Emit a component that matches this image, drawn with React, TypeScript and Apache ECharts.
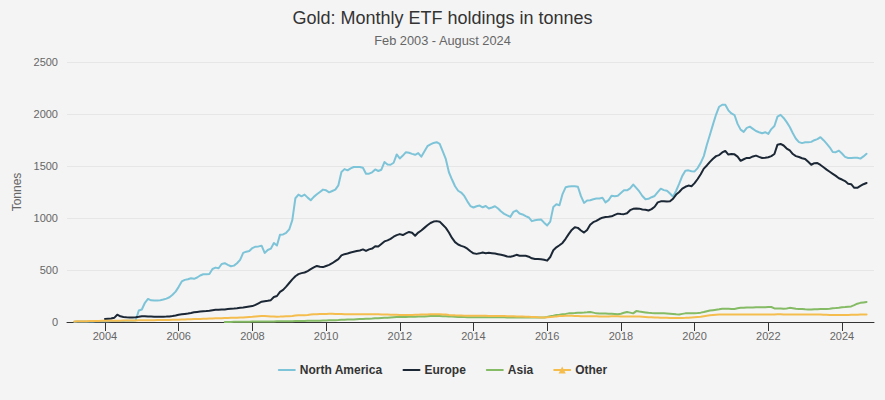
import React, { useEffect, useRef } from "react";
import * as echarts from "echarts";

const TITLE = "Gold: Monthly ETF holdings in tonnes";
const SUBTITLE = "Feb 2003 - August 2024";
const Y_NAME = "Tonnes";
const seriesNames = ["North America", "Europe", "Asia", "Other"];
const seriesColors = ["#7ec4d8", "#1b2735", "#84bb64", "#f4bd4e"];
const xTickYears = [2004, 2006, 2008, 2010, 2012, 2014, 2016, 2018, 2020, 2022, 2024];

// first month (year, month) of each series; values are month-end holdings in tonnes
const naStart = [2003, 2];
const naValues = [
  3, 4, 4, 5, 5, 6, 6, 7, 7, 8, 8, // 2003 Feb-Dec
  8, 9, 9, 10, 10, 10, 11, 11, 12, 15, 110, 120, // 2004
  185, 222, 208, 206, 207, 210, 216, 225, 238, 262, 292, 338, // 2005
  390, 405, 411, 421, 415, 428, 447, 459, 459, 462, 510, 523, // 2006
  517, 558, 565, 549, 536, 542, 565, 597, 664, 676, 683, 711, // 2007
  724, 727, 734, 664, 692, 705, 760, 735, 840, 842, 858, 890, // 2008
  980, 1190, 1225, 1209, 1225, 1196, 1171, 1203, 1228, 1250, 1273, 1266, // 2009
  1247, 1260, 1273, 1314, 1442, 1470, 1458, 1477, 1490, 1490, 1490, 1483, // 2010
  1426, 1426, 1439, 1467, 1452, 1464, 1538, 1515, 1512, 1531, 1611, 1573, // 2011
  1600, 1633, 1627, 1617, 1608, 1624, 1590, 1640, 1690, 1707, 1722, 1729, // 2012
  1712, 1640, 1565, 1440, 1370, 1305, 1262, 1245, 1212, 1160, 1115, 1101, // 2013
  1113, 1120, 1103, 1115, 1091, 1101, 1113, 1091, 1062, 1040, 1025, 1011, // 2014
  1059, 1072, 1043, 1034, 1018, 1005, 970, 979, 983, 986, 955, 928, // 2015
  965, 1105, 1132, 1123, 1230, 1295, 1303, 1305, 1305, 1300, 1210, 1145, // 2016
  1168, 1171, 1180, 1187, 1188, 1195, 1150, 1172, 1215, 1210, 1215, 1240, // 2017
  1266, 1266, 1285, 1322, 1290, 1255, 1212, 1180, 1184, 1200, 1212, 1248, // 2018
  1282, 1268, 1262, 1235, 1205, 1262, 1330, 1405, 1455, 1458, 1450, 1448, // 2019
  1480, 1530, 1595, 1705, 1800, 1900, 1995, 2070, 2089, 2088, 2035, 2005, // 2020
  1990, 1905, 1850, 1828, 1866, 1878, 1857, 1836, 1825, 1815, 1825, 1809, // 2021
  1855, 1885, 1975, 1992, 1962, 1922, 1875, 1815, 1762, 1730, 1720, 1728, // 2022
  1729, 1732, 1748, 1758, 1777, 1748, 1715, 1680, 1635, 1633, 1648, 1620, // 2023
  1588, 1577, 1578, 1579, 1579, 1571, 1592, 1617, // 2024 Jan-Aug
];

const euStart = [2003, 12];
const euValues = [
  30, // 2003 Dec
  32, 33, 40, 70, 55, 48, 45, 44, 44, 46, 50, 55, // 2004
  55, 52, 52, 51, 51, 51, 51, 52, 54, 57, 62, 70, // 2005
  74, 78, 82, 87, 93, 97, 101, 103, 105, 108, 113, 117, // 2006
  118, 120, 121, 124, 127, 129, 132, 136, 140, 145, 150, 153, // 2007
  165, 180, 195, 200, 204, 210, 240, 250, 290, 309, 340, 375, // 2008
  410, 440, 460, 470, 476, 490, 508, 525, 539, 532, 528, 539, // 2009
  549, 565, 585, 605, 640, 652, 658, 668, 675, 682, 688, 698, // 2010
  683, 698, 706, 728, 725, 750, 775, 785, 800, 820, 835, 845, // 2011
  836, 852, 866, 858, 830, 860, 880, 905, 930, 952, 966, 970, // 2012
  965, 935, 905, 860, 808, 768, 745, 732, 722, 705, 680, 660, // 2013
  655, 660, 668, 662, 665, 662, 658, 652, 646, 640, 630, 628, // 2014
  635, 646, 637, 638, 637, 628, 612, 606, 605, 603, 598, 590, // 2015
  625, 690, 718, 738, 760, 800, 845, 885, 912, 905, 880, 860, // 2016
  885, 935, 960, 972, 990, 1003, 1010, 1011, 1016, 1030, 1042, 1038, // 2017
  1037, 1045, 1075, 1088, 1091, 1090, 1082, 1080, 1072, 1085, 1108, 1150, // 2018
  1160, 1161, 1158, 1160, 1185, 1225, 1250, 1282, 1300, 1312, 1306, 1335, // 2019
  1375, 1420, 1475, 1505, 1540, 1570, 1595, 1605, 1630, 1645, 1610, 1615, // 2020
  1612, 1590, 1550, 1565, 1578, 1578, 1592, 1600, 1588, 1577, 1579, 1584, // 2021
  1595, 1615, 1705, 1712, 1697, 1668, 1650, 1615, 1595, 1586, 1575, 1568, // 2022
  1540, 1512, 1527, 1528, 1510, 1488, 1465, 1445, 1425, 1405, 1382, 1370, // 2023
  1355, 1330, 1325, 1290, 1290, 1308, 1325, 1337, // 2024 Jan-Aug
];

const asiaStart = [2007, 3];
const asiaValues = [
  1, 1, 1, 2, 2, 2, 3, 3, 3, 4, // 2007 Mar-Dec
  4, 5, 5, 5, 6, 6, 6, 7, 7, 7, 8, 8, // 2008
  8, 9, 9, 10, 10, 11, 11, 12, 12, 13, 14, 15, // 2009
  16, 17, 18, 19, 21, 22, 23, 24, 25, 27, 29, 30, // 2010
  31, 32, 33, 35, 36, 38, 40, 42, 44, 46, 47, 48, // 2011
  48, 49, 50, 50, 51, 52, 53, 54, 56, 57, 58, 58, // 2012
  57, 56, 55, 54, 52, 50, 49, 48, 47, 46, 46, 46, // 2013
  46, 46, 46, 46, 46, 46, 46, 45, 45, 45, 44, 44, // 2014
  44, 44, 44, 44, 44, 44, 44, 43, 43, 43, 44, 48, // 2015
  55, 60, 67, 70, 74, 78, 83, 85, 86, 88, 90, 91, // 2016
  93, 96, 90, 83, 82, 82, 81, 80, 80, 78, 75, 80, // 2017
  89, 96, 90, 83, 105, 100, 96, 92, 88, 86, 85, 84, // 2018
  84, 83, 82, 80, 78, 75, 73, 78, 83, 83, 83, 83, // 2019
  86, 90, 96, 103, 110, 114, 118, 122, 127, 128, 127, 126, // 2020
  125, 132, 137, 138, 139, 140, 140, 141, 142, 142, 143, 144, // 2021
  144, 131, 130, 129, 128, 130, 136, 133, 128, 126, 124, 122, // 2022
  121, 121, 122, 123, 124, 125, 126, 128, 132, 134, 137, 142, // 2023
  144, 147, 150, 162, 176, 184, 188, 192, // 2024 Jan-Aug
];

const otherStart = [2003, 2];
const otherValues = [
  6, 7, 7, 8, 8, 9, 9, 10, 10, 11, 11, // 2003 Feb-Dec
  12, 12, 13, 13, 13, 14, 14, 14, 15, 15, 16, 17, // 2004
  17, 18, 18, 18, 19, 19, 19, 20, 20, 21, 21, 22, // 2005
  23, 24, 26, 27, 28, 29, 30, 31, 32, 33, 34, 35, // 2006
  36, 37, 38, 39, 40, 41, 42, 43, 44, 46, 48, 50, // 2007
  53, 56, 58, 57, 55, 53, 52, 51, 52, 54, 55, 56, // 2008
  58, 62, 64, 65, 66, 68, 72, 74, 75, 76, 77, 78, // 2009
  79, 80, 78, 77, 76, 75, 75, 74, 74, 74, 74, 74, // 2010
  74, 74, 74, 74, 74, 73, 72, 71, 70, 70, 69, 68, // 2011
  67, 67, 68, 68, 69, 70, 71, 72, 73, 74, 74, 74, // 2012
  74, 73, 71, 68, 66, 64, 63, 62, 61, 60, 60, 60, // 2013
  60, 60, 59, 59, 58, 58, 58, 57, 57, 57, 56, 56, // 2014
  55, 54, 53, 52, 51, 50, 48, 47, 45, 44, 44, 45, // 2015
  47, 50, 54, 57, 58, 60, 60, 59, 58, 57, 56, 56, // 2016
  55, 55, 55, 55, 54, 54, 54, 54, 55, 55, 55, 54, // 2017
  54, 54, 54, 54, 53, 52, 50, 48, 46, 45, 44, 43, // 2018
  42, 41, 40, 39, 38, 38, 38, 39, 40, 42, 44, 46, // 2019
  48, 50, 55, 60, 64, 67, 70, 72, 72, 73, 73, 73, // 2020
  73, 72, 72, 72, 73, 73, 73, 73, 73, 73, 73, 73, // 2021
  73, 73, 74, 74, 73, 73, 72, 72, 72, 72, 72, 72, // 2022
  72, 72, 72, 72, 71, 70, 69, 68, 67, 67, 67, 68, // 2023
  68, 68, 69, 70, 70, 71, 72, 73, // 2024 Jan-Aug
];

// x = decimal year at the end of each month
function toPoints(start: number[], values: number[]) {
  return values.map((v, i) => {
    const idx = start[1] - 1 + i;
    const year = start[0] + Math.floor(idx / 12);
    const month = (idx % 12) + 1;
    return [year + month / 12, v];
  });
}

const FONT = "'Liberation Sans', Arial, Helvetica, sans-serif";

export default function App() {
  const ref = useRef<HTMLDivElement>(null);

  useEffect(() => {
    if (!ref.current) return;
    const chart = echarts.init(ref.current, null, { renderer: "svg" });
    const allData = [
      toPoints(naStart, naValues),
      toPoints(euStart, euValues),
      toPoints(asiaStart, asiaValues),
      toPoints(otherStart, otherValues),
    ];
    const option: any = {
      animation: false,
      backgroundColor: "#f4f4f4",
      textStyle: { fontFamily: FONT },
      title: [
        {
          text: TITLE,
          left: "center",
          top: 8.5,
          padding: 0,
          textStyle: { fontSize: 18, fontWeight: "normal", color: "#333333", lineHeight: 18, fontFamily: FONT },
        },
        {
          text: SUBTITLE,
          left: "center",
          top: 34,
          padding: 0,
          textStyle: { fontSize: 12.8, fontWeight: "normal", color: "#666666", lineHeight: 13, fontFamily: FONT },
        },
      ],
      grid: { left: 67, right: 11, top: 62, bottom: 78, containLabel: false },
      legend: {
        top: 364,
        left: "center",
        padding: 0,
        itemGap: 20,
        itemWidth: 16,
        itemHeight: 9,
        textStyle: { fontSize: 12, fontWeight: "bold", color: "#333333", fontFamily: FONT },
        data: [
          { name: seriesNames[0], itemStyle: { opacity: 0 } },
          { name: seriesNames[1], itemStyle: { opacity: 0 } },
          { name: seriesNames[2], itemStyle: { opacity: 0 } },
          { name: seriesNames[3] },
        ],
      },
      xAxis: {
        type: "value",
        min: 2002.969,
        max: 2024.869,
        splitLine: { show: false },
        axisLine: { show: true, lineStyle: { color: "#333333", width: 1 } },
        axisTick: { show: true, length: 9, lineStyle: { color: "#333333" }, customValues: xTickYears },
        axisLabel: {
          customValues: xTickYears,
          formatter: (v: number) => String(Math.round(v)),
          color: "#666666",
          fontSize: 11,
          margin: 8,
          fontFamily: FONT,
        },
      },
      yAxis: {
        type: "value",
        min: 0,
        max: 2500,
        interval: 500,
        name: Y_NAME,
        nameLocation: "middle",
        nameGap: 28,
        nameTextStyle: { color: "#666666", fontSize: 12, fontFamily: FONT },
        axisLine: { show: false },
        axisTick: { show: false },
        splitLine: { lineStyle: { color: "#e6e6e6", width: 1 } },
        axisLabel: {
          color: "#666666",
          fontSize: 11,
          margin: 9,
          fontFamily: FONT,
          formatter: (v: number) => String(v),
        },
      },
      series: seriesNames.map((name, i) => ({
        name,
        type: "line",
        data: allData[i],
        showSymbol: false,
        symbol: i === 3 ? "triangle" : "circle",
        color: seriesColors[i],
        lineStyle: { width: 2, color: seriesColors[i], cap: "round", join: "round" },
        itemStyle: { color: seriesColors[i] },
        emphasis: { disabled: true },
        z: 2 + i,
      })),
    };
    chart.setOption(option);
    return () => {
      chart.dispose();
    };
  }, []);

  return (
    <div
      ref={ref}
      style={{ position: "absolute", left: 0, top: 0, width: 885, height: 400 }}
    />
  );
}
